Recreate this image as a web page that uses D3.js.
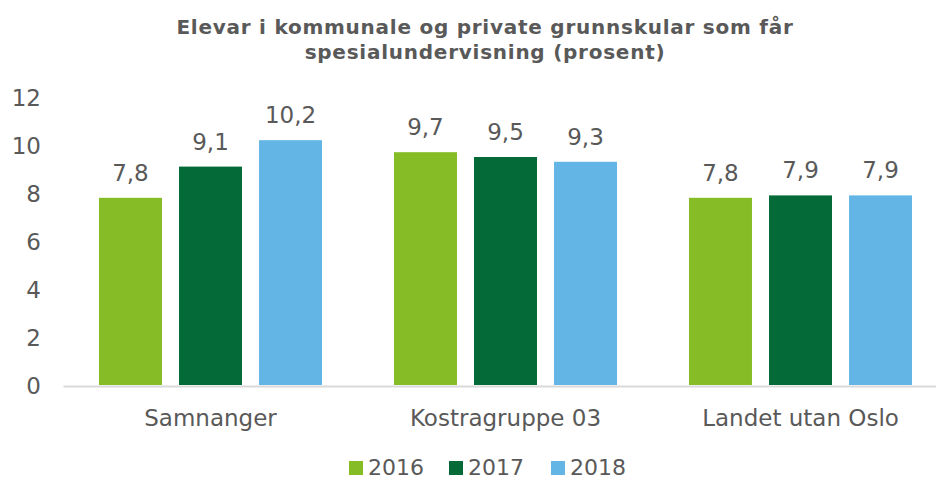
<!DOCTYPE html>
<html>
<head>
<meta charset="utf-8">
<script src="https://cdn.jsdelivr.net/npm/d3@7"></script>
<style>
  body { margin: 0; background: #fff; }
  text { font-family: "DejaVu Sans", Verdana, sans-serif; fill: #595959; }
</style>
</head>
<body>
<div id="chart"></div>
<script>
// chart data
var categories = ["Samnanger", "Kostragruppe 03", "Landet utan Oslo"];
var years = ["2016", "2017", "2018"];
var values2016 = [7.8, 9.7, 7.8];
var values2017 = [9.1, 9.5, 7.9];
var values2018 = [10.2, 9.3, 7.9];
var yTicks = [0, 2, 4, 6, 8, 10, 12];
var titleLines = ["Elevar i kommunale og private grunnskular som får", "spesialundervisning (prosent)"];

var colors = ["#86bc25", "#046a38", "#62b5e5"];
var series = [values2016, values2017, values2018];

var width = 936, height = 481;
var margin = {top: 97, right: -12, bottom: 96, left: 63};

var svg = d3.select("#chart").append("svg")
  .attr("width", width)
  .attr("height", height);

// title
svg.append("text")
  .attr("text-anchor", "middle")
  .style("font-weight", "bold")
  .style("font-size", "20px")
  .style("letter-spacing", "0.75px")
  .selectAll("tspan")
  .data(titleLines)
  .enter().append("tspan")
  .attr("x", 485)
  .attr("y", function(d, i) { return 34 + i * 25; })
  .text(function(d) { return d; });

var x0 = d3.scaleBand()
  .domain(categories)
  .range([margin.left, width - margin.right])
  .paddingInner(0.244)
  .paddingOuter(0.122);

var x1 = d3.scaleBand()
  .domain(years)
  .range([0, x0.bandwidth()])
  .paddingInner(0.213);

var y = d3.scaleLinear()
  .domain([0, 12])
  .range([height - margin.bottom, margin.top]);

// y axis labels
var yAxis = svg.append("g")
  .attr("transform", "translate(41,0)")
  .call(d3.axisLeft(y).tickValues(yTicks).tickSize(0).tickPadding(0));
yAxis.select(".domain").remove();
yAxis.selectAll("text")
  .style("font-size", "23px")
  .style("font-family", "DejaVu Sans, sans-serif")
  .attr("dy", "0.36em")
  .attr("fill", "#595959");

// bars
var groups = svg.selectAll(".group")
  .data(categories)
  .enter().append("g")
  .attr("class", "group")
  .attr("transform", function(d) { return "translate(" + x0(d) + ",0)"; });

groups.selectAll("rect")
  .data(function(d, i) {
    return years.map(function(yr, j) { return {year: yr, value: series[j][i], c: colors[j]}; });
  })
  .enter().append("rect")
  .attr("x", function(d) { return x1(d.year); })
  .attr("y", function(d) { return y(d.value); })
  .attr("width", x1.bandwidth())
  .attr("height", function(d) { return y(0) - y(d.value); })
  .attr("fill", function(d) { return d.c; });

groups.selectAll(".lbl")
  .data(function(d, i) {
    return years.map(function(yr, j) { return {year: yr, value: series[j][i]}; });
  })
  .enter().append("text")
  .attr("class", "lbl")
  .attr("x", function(d) { return x1(d.year) + x1.bandwidth() / 2; })
  .attr("y", function(d) { return y(d.value) - 17; })
  .attr("text-anchor", "middle")
  .style("font-size", "23px")
  .text(function(d) { return String(d.value.toFixed(1)).replace(".", ","); });

// x axis
var xAxis = svg.append("g")
  .attr("transform", "translate(0," + (y(0) + 1) + ")")
  .call(d3.axisBottom(x0).tickSize(0).tickPadding(0));
xAxis.select(".domain")
  .attr("stroke", "#d9d9d9")
  .attr("stroke-width", 2);
xAxis.selectAll("text")
  .attr("dy", null)
  .attr("y", 40)
  .style("font-size", "23px")
  .style("font-family", "DejaVu Sans, sans-serif")
  .attr("fill", "#595959");

// legend
var legendX = [349, 449, 551];
var legend = svg.selectAll(".legend")
  .data(years)
  .enter().append("g")
  .attr("class", "legend")
  .attr("transform", function(d, i) { return "translate(" + legendX[i] + ",461)"; });
legend.append("rect")
  .attr("width", 14)
  .attr("height", 14)
  .attr("fill", function(d, i) { return colors[i]; });
legend.append("text")
  .attr("x", 19)
  .attr("y", 14)
  .style("font-size", "22px")
  .text(function(d) { return d; });
</script>
</body>
</html>
